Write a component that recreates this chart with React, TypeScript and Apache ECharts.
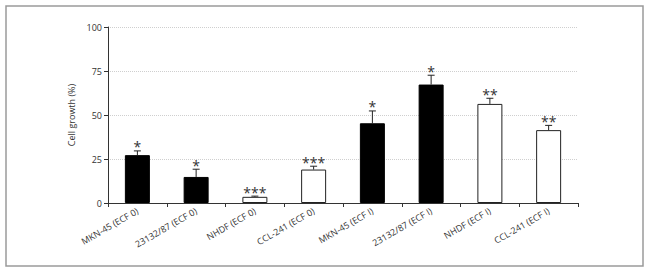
import React, { useEffect, useRef } from "react";
import * as echarts from "echarts";

const categories = [
  "MKN-45 (ECF 0)",
  "23132/87 (ECF 0)",
  "NHDF (ECF 0)",
  "CCL-241 (ECF 0)",
  "MKN-45 (ECF I)",
  "23132/87 (ECF I)",
  "NHDF (ECF I)",
  "CCL-241 (ECF I)",
];
const values = [27.2, 14.8, 3.5, 19.0, 45.3, 67.3, 56.3, 41.4];
const errors = [2.4, 4.4, 0.4, 1.9, 7.0, 5.3, 3.2, 2.7];
const stars = ["*", "*", "***", "***", "*", "*", "**", "**"];
const filled = [true, true, false, false, true, true, false, false];
const yTicks = [0, 25, 50, 75, 100];

export default function App() {
  const ref = useRef<HTMLDivElement>(null);
  useEffect(() => {
    document.body.style.margin = "0";
    const chart = echarts.init(ref.current!, null, { renderer: "svg" });
    const font = "Open Sans";
    chart.setOption({
      animation: false,
      backgroundColor: "#fff",
      textStyle: { fontFamily: font },
      graphic: [
        {
          type: "rect",
          shape: { x: 6, y: 6, width: 637, height: 260 },
          style: { fill: "none", stroke: "#9a9a9a", lineWidth: 1.5 },
          silent: true,
        },
      ],
      grid: { left: 108, right: 72, top: 27, bottom: 68 },
      xAxis: {
        type: "category",
        data: categories,
        boundaryGap: true,
        axisLine: { lineStyle: { color: "#333", width: 1 } },
        axisTick: { show: true, length: 4, alignWithLabel: false, lineStyle: { color: "#333" } },
        axisLabel: {
          interval: 0,
          rotate: 30,
          fontSize: 9,
          color: "#333",
          fontFamily: font,
          margin: 7,
        },
      },
      yAxis: {
        type: "value",
        min: yTicks[0],
        max: yTicks[yTicks.length - 1],
        interval: 25,
        name: "Cell growth (%)",
        nameLocation: "middle",
        nameGap: 29,
        nameTextStyle: { fontSize: 9, color: "#333", fontFamily: font },
        axisLine: { show: true, lineStyle: { color: "#333", width: 1 } },
        axisTick: { show: true, length: 4, lineStyle: { color: "#333" } },
        axisLabel: { fontSize: 9, color: "#333", fontFamily: font, margin: 6 },
        splitLine: { show: true, lineStyle: { color: "#cfcfcf", type: "dotted", width: 1 } },
      },
      series: [
        {
          type: "bar",
          barWidth: 25,
          data: values.map((v, i) => ({
            value: v,
            itemStyle: filled[i]
              ? { color: "#000", borderColor: "#000", borderWidth: 1 }
              : { color: "#fff", borderColor: "#222", borderWidth: 1 },
          })),
          z: 3,
        },
        {
          type: "custom",
          z: 4,
          data: values.map((v, i) => [i, v, v + errors[i]]),
          renderItem: (params: any, api: any) => {
            const i = api.value(0);
            const base = api.coord([i, api.value(1)]);
            const top = api.coord([i, api.value(2)]);
            const cap = 3.5;
            return {
              type: "group",
              children: [
                {
                  type: "line",
                  shape: { x1: base[0], y1: base[1], x2: top[0], y2: top[1] },
                  style: { stroke: "#222", lineWidth: 1 },
                },
                {
                  type: "line",
                  shape: { x1: top[0] - cap, y1: top[1], x2: top[0] + cap, y2: top[1] },
                  style: { stroke: "#222", lineWidth: 1 },
                },
                {
                  type: "text",
                  x: top[0],
                  y: top[1] - 4,
                  style: {
                    text: stars[i],
                    fontSize: 14,
                    fontFamily: font,
                    fill: "#333",
                    textAlign: "center",
                    textVerticalAlign: "middle",
                  },
                },
              ],
            };
          },
        },
      ],
    });
    return () => chart.dispose();
  }, []);
  return <div ref={ref} style={{ width: 650, height: 271 }} />;
}
